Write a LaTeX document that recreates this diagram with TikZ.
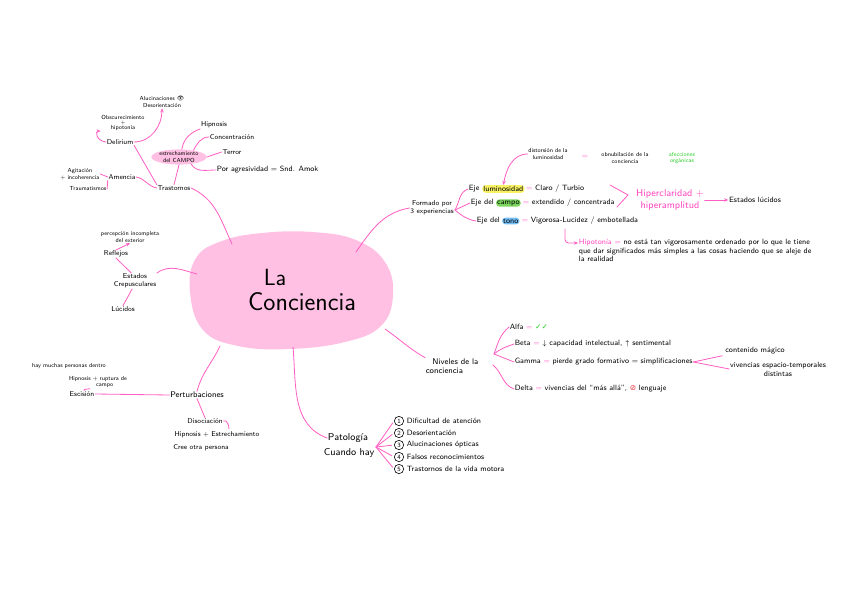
\documentclass[tikz,border=0pt]{standalone}
\usepackage{fontspec}
\renewcommand{\familydefault}{\sfdefault}
\newfontfamily\symfont{DejaVu Sans}
\newfontfamily\emojifont{Noto Emoji}
\usetikzlibrary{positioning,arrows.meta,shapes.geometric}

\definecolor{blobpink}{RGB}{255,192,227}
\definecolor{linkpink}{RGB}{255,95,195}
\definecolor{hipink}{RGB}{255,70,190}
\definecolor{hlyellow}{RGB}{248,242,100}
\definecolor{hlgreen}{RGB}{125,215,95}
\definecolor{hlblue}{RGB}{115,190,245}
\definecolor{okgreen}{RGB}{40,205,40}
\definecolor{nored}{RGB}{240,40,50}

\tikzset{
  fs5/.style={font=\fontsize{5}{5.6}\selectfont, inner sep=0.5pt, align=center},
  fs6/.style={font=\fontsize{6}{7}\selectfont, inner sep=0.5pt, align=center},
  fs65/.style={font=\fontsize{6.5}{7.6}\selectfont, inner sep=0.5pt, align=center},
  fs7/.style={font=\fontsize{7}{8}\selectfont, inner sep=0.5pt, align=center},
  fs8/.style={font=\fontsize{8.5}{10}\selectfont, inner sep=0.5pt, align=center},
  link/.style={draw=linkpink, line width=0.7pt, line cap=round},
  linkarrow/.style={link, -{Stealth[length=3.5pt,width=3pt]}},
  hlbox/.style={rounded corners=3pt, inner sep=1pt, fill=#1},
  numcirc/.style={circle, draw, line width=0.5pt, inner sep=0.3pt, minimum size=8pt, font=\fontsize{5.5}{6}\selectfont}
}

\begin{document}
\begin{tikzpicture}[x=0.03cm, y=-0.03cm]
    \useasboundingbox (0,0) rectangle (848,599);

    % centre
    \fill[blobpink] plot[smooth cycle, tension=0.7] coordinates {(190,292) (196,258) (222,241) (262,233) (312,232) (356,240) (385,262) (393,295) (381,326) (345,342) (290,349) (238,346) (203,330)};
    \node[font=\fontsize{20}{24}\selectfont] (la) at (275,277) {La};
    \node[font=\fontsize{22}{26}\selectfont] (conc) at (302,302) {Conciencia};
    \coordinate (bTL) at (232,244);
    \coordinate (bL) at (197,274);
    \coordinate (bTR) at (356,252);
    \coordinate (bR) at (385,329);
    \coordinate (bB) at (293,347);
    \coordinate (bBL) at (220,346);

    % trastornos
    \node[fs6] (trast) at (174,188) {Trastornos};
    \node[fs5, ellipse, fill=blobpink, inner sep=0pt] (estr) at (179,157) {estrechamiento\\del CAMPO};
    \node[fs6] (hipn) at (214,125) {Hipnosis};
    \node[fs6] (concen) at (232,137) {Concentración};
    \node[fs6] (terror) at (232,152) {Terror};
    \node[fs65, anchor=west] (amok) at (216,170) {Por agresividad = Snd. Amok};
    \node[fs6] (delir) at (120,142) {Delirium};
    \node[fs5] (aluc) at (162,102) {Alucinaciones {\emojifont 👁}\\Desorientación};
    \node[fs5, font=\fontsize{5}{4.4}\selectfont] (obsc) at (123,123) {Obscurecimiento\\+\\hipotonía};
    \node[fs6] (amen) at (122,177) {Amencia};
    \node[fs5] (agit) at (80,174) {Agitación\\+ incoherencia};
    \node[fs5] (traum) at (88,189) {Traumatismos};

    \draw[link] (trast.east) to[out=-25,in=115] (bTL);
    \draw[link] (estr.south) -- (trast.north);
    \draw[link] (estr.70) to[out=80,in=200] (hipn.south west);
    \draw[link] (estr.25) to[out=60,in=180] (concen.west);
    \draw[link] (estr.east) -- (terror.west);
    \draw[link] (estr.-30) to[out=-60,in=180] (amok.west);
    \draw[link] (delir.south east) -- (trast.north west);
    \draw[linkarrow] (delir.east) to[out=0,in=-90] (aluc.south);
    \draw[linkarrow] (delir.west) .. controls (96,141) and (95,131) .. (obsc.200);
    \draw[link] (amen.east) to[out=-10,in=170] (trast.west);
    \draw[link] (amen.west) -- (agit.east);
    \draw[link] (amen.south west) -- (traum.east);

    % estados
    \node[fs6] (crep) at (135,281) {Estados\\Crepusculares};
    \node[fs6] (refl) at (116,254) {Reflejos};
    \node[fs5] (percep) at (130,237) {percepción incompleta\\del exterior};
    \node[fs6] (lucid) at (123,309) {Lúcidos};
    \draw[link] (crep.north east) to[out=35,in=165] (bL);
    \draw[link] (crep.115) -- (refl.south);
    \draw[linkarrow] (refl.north) -- (percep.south);
    \draw[link] (lucid.north) -- (crep.-110);

    % perturbaciones
    \node[fs7] (pert) at (197,395) {Perturbaciones};
    \node[fs6] (escis) at (82,394) {Escisión};
    \node[fs5] (muchas) at (69,366) {hay muchas personas dentro};
    \node[fs5] (ruptura) at (98,382) {Hipnosis + ruptura de\\\hspace*{4mm}campo};
    \node[fs6] (disoc) at (205,421) {Disociación};
    \node[fs6] (hipest) at (217,435) {Hipnosis + Estrechamiento};
    \node[fs6] (otra) at (201,448) {Cree otra persona};
    \coordinate (disocend) at (229,429);
    \draw[link] (pert.north) to[out=75,in=-115] (bBL);
    \draw[link] (escis.east) -- (pert.west);
    \draw[link] (escis.60) to[out=100,in=-150] (ruptura.-140);
    \draw[link] (pert.south) -- (disoc.north);
    \draw[link] (disoc.east) to[out=30,in=90] (disocend);

    % patologia
    \node[fs8] (pato) at (348,438) {Patología};
    \node[fs8] (cuando) at (349,453) {Cuando hay};
    \coordinate (patofan) at (376,447);
    \draw[link] (bB) to[out=-85,in=160] (pato.west);
    \foreach \n/\y/\t in {1/421/Dificultad de atención, 2/433/Desorientación, 3/445/Alucinaciones ópticas, 4/457/Falsos reconocimientos, 5/469/Trastornos de la vida motora} {
        \node[numcirc] (num\n) at (399,\y) {\n};
        \node[fs65, anchor=west] (item\n) at (406,\y) {\t};
        \draw[link, shorten >=2pt] (patofan) -- (num\n.west);
    }

    % formado por
    \node[fs6] (formado) at (432,208) {Formado por\\3 experiencias};
    \coordinate (ejefan) at (455,210);
    \draw[link] (bTR) to[out=55,in=190] (formado.west);
    \node[fs65, anchor=west] (ejeL) at (468,189) {Eje};
    \node[fs65, hlbox=hlyellow, right=1.5pt of ejeL] (lum) {luminosidad};
    \node[fs65, right=0.5pt of lum] (lumR) {{\color{linkpink}=} Claro / Turbio};
    \node[fs65, anchor=west] (ejeC) at (470,203) {Eje del};
    \node[fs65, hlbox=hlgreen, right=1pt of ejeC] (campo) {campo};
    \node[fs65, right=1pt of campo] (campoR) {{\color{linkpink}=} extendido / concentrada};
    \node[fs65, anchor=west] (ejeT) at (476,221) {Eje del};
    \node[fs65, hlbox=hlblue, right=1pt of ejeT] (tono) {tono};
    \node[fs65, right=1pt of tono] (tonoR) {{\color{linkpink}=} Vigorosa-Lucidez / embotellada};
    \draw[link] (ejefan) to[out=60,in=200] (ejeL.west);
    \draw[link] (ejefan) -- (ejeC.west);
    \draw[link] (ejefan) to[out=-40,in=170] (ejeT.west);

    \node[fs5] (distor) at (548,154) {distorsión de la\\luminosidad};
    \node[fs65, text=linkpink] (eqd) at (585,157) {=};
    \node[fs5] (obnub) at (625,158) {obnubilación de la\\conciencia};
    \node[fs5, text=okgreen] (afecc) at (682,158) {afecciones\\orgánicas};
    \draw[linkarrow] (distor.west) to[out=180,in=80] (lum.north);

    \coordinate (brTop) at (610,185);
    \coordinate (brTip) at (628,195);
    \coordinate (brBot) at (617,207);
    \draw[link] (brTop) -- (brTip) -- (brBot);
    \node[fs8, text=hipink] (hiper) at (670,200) {Hiperclaridad +\\hiperamplitud};
    \node[fs65] (eluc) at (755,200) {Estados lúcidos};
    \draw[linkarrow] (hiper.east) -- (eluc.west);

    \node[fs65, anchor=north west, align=left] (hipo) at (578,238) {\textcolor{hipink}{Hipotonía =} no está tan vigorosamente ordenado por lo que le tiene\\que dar significados más simples a las cosas haciendo que se aleje de\\la realidad};
    \coordinate (hookTop) at (565,229);
    \coordinate (hookEnd) at (578,243);
    \draw[linkarrow, rounded corners=3pt] (hookTop) |- (hookEnd);

    % niveles
    \node[fs7, anchor=west, align=left] (niveles) at (425,366) {\hspace*{2mm}Niveles de la\\conciencia};
    \coordinate (nivfan) at (494,354);
    \coordinate (nivfan2) at (493,365);
    \draw[link] (bR) to[out=-35,in=150] (niveles.north west);
    \node[fs65, anchor=west] (alfa) at (509,327) {Alfa {\color{linkpink}=} {\symfont\color{okgreen}✓✓}};
    \node[fs65, anchor=west] (beta) at (514,344) {Beta {\color{linkpink}=} $\downarrow$ capacidad intelectual, $\uparrow$ sentimental};
    \node[fs65, anchor=west] (gamma) at (514,362) {Gamma {\color{linkpink}=} pierde grado formativo = simplificaciones};
    \node[fs65, anchor=west] (delta) at (514,389) {Delta {\color{linkpink}=} vivencias del “más allá”, {\symfont\color{nored}⊘} lenguaje};
    \draw[link] (nivfan) to[out=70,in=220] (alfa.west);
    \draw[link] (nivfan) to[out=40,in=200] (beta.west);
    \draw[link] (nivfan) -- (gamma.west);
    \draw[link] (nivfan2) to[out=-40,in=160] (delta.west);
    \node[fs65] (magico) at (755,351) {contenido mágico};
    \node[fs65] (vivenc) at (778,369) {vivencias espacio-temporales\\distintas};
    \draw[link, shorten <=2pt] (magico.south west) -- (gamma.east);
    \draw[link] (gamma.east) -- (vivenc.west);
\end{tikzpicture}
\end{document}
